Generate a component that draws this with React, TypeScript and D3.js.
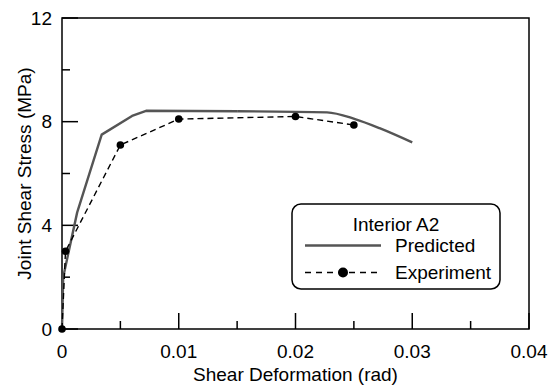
import React, { useRef, useEffect } from 'react';
import * as d3 from 'd3';

// Predicted response (shear deformation in rad, joint shear stress in MPa)
const predictedX = [0, 0.0001, 0.0013, 0.0034, 0.006, 0.0072, 0.015, 0.0227, 0.0251, 0.0272, 0.03];
const predictedY = [0, 2.0, 4.5, 7.5, 8.22, 8.42, 8.4, 8.36, 8.1, 7.75, 7.2];

// Experiment points
const experimentX = [0, 0.0003, 0.005, 0.01, 0.02, 0.025];
const experimentY = [0, 3.0, 7.1, 8.1, 8.2, 7.87];

const xTicks = [0, 0.01, 0.02, 0.03, 0.04];
const xMinorTicks = [0.005, 0.015, 0.025, 0.035];
const yTicks = [0, 4, 8, 12];
const yMinorTicks = [2, 6, 10];

const FONT = 'Arial, "Liberation Sans", Helvetica, sans-serif';

const App: React.FC = () => {
  const svgRef = useRef<SVGSVGElement>(null);
  const width = 556;
  const height = 385;
  const margin = { top: 18, right: 27, bottom: 56, left: 62 };

  useEffect(() => {
    if (!svgRef.current) return;
    const svg = d3.select(svgRef.current);
    svg.selectAll('*').remove();

    const innerWidth = width - margin.left - margin.right;
    const innerHeight = height - margin.top - margin.bottom;

    const g = svg.append('g').attr('transform', `translate(${margin.left},${margin.top})`);

    const x = d3.scaleLinear().domain([0, 0.04]).range([0, innerWidth]);
    const y = d3.scaleLinear().domain([0, 12]).range([innerHeight, 0]);

    // frame
    g.append('rect')
      .attr('x', 0)
      .attr('y', 0)
      .attr('width', innerWidth)
      .attr('height', innerHeight)
      .attr('fill', 'none')
      .attr('stroke', '#000')
      .attr('stroke-width', 1.5);

    // ticks (inward)
    g.selectAll('.xmaj')
      .data(xTicks)
      .enter()
      .append('line')
      .attr('x1', d => x(d))
      .attr('x2', d => x(d))
      .attr('y1', innerHeight)
      .attr('y2', innerHeight - 16)
      .attr('stroke', '#000')
      .attr('stroke-width', 1.5);

    g.selectAll('.xmin')
      .data(xMinorTicks)
      .enter()
      .append('line')
      .attr('x1', d => x(d))
      .attr('x2', d => x(d))
      .attr('y1', innerHeight)
      .attr('y2', innerHeight - 8)
      .attr('stroke', '#000')
      .attr('stroke-width', 1.5);

    g.selectAll('.ymaj')
      .data(yTicks)
      .enter()
      .append('line')
      .attr('x1', 0)
      .attr('x2', 16)
      .attr('y1', d => y(d))
      .attr('y2', d => y(d))
      .attr('stroke', '#000')
      .attr('stroke-width', 1.5);

    g.selectAll('.ymin')
      .data(yMinorTicks)
      .enter()
      .append('line')
      .attr('x1', 0)
      .attr('x2', 8)
      .attr('y1', d => y(d))
      .attr('y2', d => y(d))
      .attr('stroke', '#000')
      .attr('stroke-width', 1.5);

    // tick labels
    g.selectAll('.xlab')
      .data(xTicks)
      .enter()
      .append('text')
      .attr('x', d => x(d))
      .attr('y', innerHeight + 29)
      .attr('text-anchor', 'middle')
      .attr('font-family', FONT)
      .attr('font-size', 19)
      .text(d => (d === 0 ? '0' : String(d)));

    g.selectAll('.ylab')
      .data(yTicks)
      .enter()
      .append('text')
      .attr('x', -10)
      .attr('y', d => y(d))
      .attr('dy', '0.35em')
      .attr('text-anchor', 'end')
      .attr('font-family', FONT)
      .attr('font-size', 19)
      .text(d => String(d));

    // axis titles
    g.append('text')
      .attr('x', innerWidth / 2)
      .attr('y', innerHeight + 52)
      .attr('text-anchor', 'middle')
      .attr('font-family', FONT)
      .attr('font-size', 19)
      .text('Shear Deformation (rad)');

    g.append('text')
      .attr('transform', 'rotate(-90)')
      .attr('x', -innerHeight / 2)
      .attr('y', -31)
      .attr('text-anchor', 'middle')
      .attr('font-family', FONT)
      .attr('font-size', 19)
      .text('Joint Shear Stress (MPa)');

    // predicted curve
    const predicted = predictedX.map((v, i) => [v, predictedY[i]] as [number, number]);
    const line = d3.line<[number, number]>()
      .x(d => x(d[0]))
      .y(d => y(d[1]));
    const smooth = d3.line<[number, number]>()
      .x(d => x(d[0]))
      .y(d => y(d[1]))
      .curve(d3.curveMonotoneX);

    g.append('path')
      .datum(predicted.slice(0, 7))
      .attr('d', line)
      .attr('fill', 'none')
      .attr('stroke', '#555')
      .attr('stroke-width', 2.4)
      .attr('stroke-linejoin', 'round');

    g.append('path')
      .datum(predicted.slice(6))
      .attr('d', smooth)
      .attr('fill', 'none')
      .attr('stroke', '#555')
      .attr('stroke-width', 2.4)
      .attr('stroke-linejoin', 'round');

    // experiment
    const experiment = experimentX.map((v, i) => [v, experimentY[i]] as [number, number]);
    g.append('path')
      .datum(experiment)
      .attr('d', line)
      .attr('fill', 'none')
      .attr('stroke', '#000')
      .attr('stroke-width', 1.4)
      .attr('stroke-dasharray', '6,4');

    g.selectAll('.pt')
      .data(experiment)
      .enter()
      .append('circle')
      .attr('cx', d => x(d[0]))
      .attr('cy', d => y(d[1]))
      .attr('r', 3.8)
      .attr('fill', '#000');

    // legend
    const lg = svg.append('g').attr('transform', 'translate(292,204)');
    lg.append('rect')
      .attr('x', 0)
      .attr('y', 0)
      .attr('width', 208)
      .attr('height', 85)
      .attr('rx', 9)
      .attr('fill', '#fff')
      .attr('stroke', '#000')
      .attr('stroke-width', 1.5);

    lg.append('text')
      .attr('x', 104)
      .attr('y', 27)
      .attr('text-anchor', 'middle')
      .attr('font-family', FONT)
      .attr('font-size', 19)
      .text('Interior A2');

    lg.append('line')
      .attr('x1', 13)
      .attr('x2', 89)
      .attr('y1', 41.5)
      .attr('y2', 41.5)
      .attr('stroke', '#555')
      .attr('stroke-width', 2.4);

    lg.append('text')
      .attr('x', 103)
      .attr('y', 48)
      .attr('font-family', FONT)
      .attr('font-size', 19)
      .text('Predicted');

    lg.append('line')
      .attr('x1', 13)
      .attr('x2', 89)
      .attr('y1', 68.5)
      .attr('y2', 68.5)
      .attr('stroke', '#000')
      .attr('stroke-width', 1.4)
      .attr('stroke-dasharray', '6,5');

    lg.append('circle')
      .attr('cx', 51)
      .attr('cy', 68.5)
      .attr('r', 5)
      .attr('fill', '#000');

    lg.append('text')
      .attr('x', 103)
      .attr('y', 75)
      .attr('font-family', FONT)
      .attr('font-size', 19)
      .text('Experiment');
  }, []);

  return (
    <div style={{ position: 'fixed', left: 0, top: 0, width, height, background: '#fff' }}>
      <svg ref={svgRef} width={width} height={height} style={{ display: 'block' }} />
    </div>
  );
};

export default App;
